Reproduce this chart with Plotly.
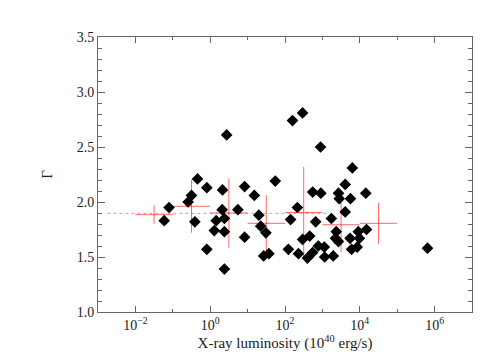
import numpy as np
import plotly.graph_objects as go

# individual sources: log10 of X-ray luminosity (1e40 erg/s) and photon index
log_lum = [-1.23, -1.10, -0.59, -0.50, -0.34, -0.41, -0.09, -0.09, 0.11, 0.16,
           0.33, 0.32, 0.38, 0.38, 0.38, 0.44, 0.74, 0.92, 0.92, 1.18,
           1.30, 1.35, 1.49, 1.43, 1.57, 1.74, 2.09, 2.15, 2.20, 2.33,
           2.36, 2.47, 2.47, 2.60, 2.66, 2.74, 2.74, 2.82, 2.89, 2.95,
           2.96, 3.05, 3.06, 3.24, 3.29, 3.37, 3.35, 3.43, 3.43, 3.45,
           3.61, 3.61, 3.75, 3.80, 3.74, 3.78, 3.93, 3.96, 3.99, 4.16,
           4.18, 5.81]
gamma = [1.83, 1.95, 2.00, 2.06, 2.21, 1.82, 2.13, 1.57, 1.74, 1.83,
         2.11, 1.93, 1.85, 1.73, 1.39, 2.61, 1.93, 2.14, 1.68, 2.06,
         1.88, 1.78, 1.72, 1.51, 1.53, 2.19, 1.57, 1.84, 2.74, 1.95,
         1.53, 2.81, 1.66, 1.49, 1.69, 1.54, 2.09, 1.82, 1.60, 2.50,
         2.08, 1.59, 1.50, 1.85, 1.51, 1.73, 1.67, 1.64, 2.08, 2.03,
         2.16, 1.91, 2.03, 2.31, 1.67, 1.57, 1.59, 1.73, 1.67, 2.08,
         1.75, 1.58]

# binned means (one decade per bin)
bin_lo = [-2, -1, 0, 1, 2, 3, 4]
bin_hi = [-1, 0, 1, 2, 3, 4, 5]
bin_gamma = [1.885, 1.961, 1.900, 1.806, 1.905, 1.793, 1.806]
bin_err = [0.084, 0.24, 0.314, 0.255, 0.414, 0.25, 0.185]

mean_gamma = 1.897
mean_span = [-2.75, 3.2]

lum = 10 ** np.array(log_lum)
lo = 10 ** np.array(bin_lo, dtype=float)
hi = 10 ** np.array(bin_hi, dtype=float)
ctr = np.sqrt(lo * hi)

font = "Liberation Serif"
red = "rgba(255,40,40,0.7)"
axcol = "#666666"

fig = go.Figure()

fig.add_trace(go.Scatter(
    x=10 ** np.array(mean_span), y=[mean_gamma, mean_gamma], mode="lines",
    line=dict(color="#aaaaaa", width=1, dash="dot"), showlegend=False))

fig.add_trace(go.Scatter(
    x=ctr, y=bin_gamma, mode="markers", marker=dict(size=1, color=red),
    error_x=dict(type="data", array=hi - ctr, arrayminus=ctr - lo,
                 color=red, thickness=1, width=0),
    error_y=dict(type="data", array=bin_err, color=red, thickness=1, width=0),
    showlegend=False))

fig.add_trace(go.Scatter(
    x=lum, y=gamma, mode="markers",
    marker=dict(symbol="diamond", size=9, color="black"),
    showlegend=False))

fig.update_xaxes(
    type="log", range=[-3, 7],
    tickvals=[1e-2, 1, 1e2, 1e4, 1e6],
    ticktext=["10<sup>\u22122</sup>", "10<sup>0</sup>", "10<sup>2</sup>",
              "10<sup>4</sup>", "10<sup>6</sup>"],
    ticks="inside", ticklen=6, tickcolor=axcol,
    minor=dict(tickvals=[1e-3, 1e-1, 10, 1e3, 1e5, 1e7], ticks="inside",
               ticklen=3, tickcolor=axcol),
    showline=True, linecolor=axcol, mirror="allticks", showgrid=False,
    zeroline=False,
    title=dict(text="X-ray luminosity (10<sup>40</sup> erg/s)",
               font=dict(family=font, size=15, color="#222"), standoff=4),
    tickfont=dict(family=font, size=14, color="#222"))

fig.update_yaxes(
    range=[1.0, 3.5], tickvals=[1.0, 1.5, 2.0, 2.5, 3.0, 3.5],
    ticktext=["1.0", "1.5", "2.0", "2.5", "3.0", "3.5"],
    ticks="inside", ticklen=7, tickcolor=axcol,
    minor=dict(dtick=0.1, ticks="inside", ticklen=4, tickcolor=axcol),
    showline=True, linecolor=axcol, mirror="allticks", showgrid=False,
    zeroline=False,
    title=dict(text="\u0393", font=dict(family=font, size=15, color="#222"),
               standoff=20),
    tickfont=dict(family=font, size=14, color="#222"))

fig.update_layout(
    width=491, height=362,
    margin=dict(l=90, r=27, t=29, b=58),
    plot_bgcolor="white", paper_bgcolor="white")

fig.write_html("out.html")
